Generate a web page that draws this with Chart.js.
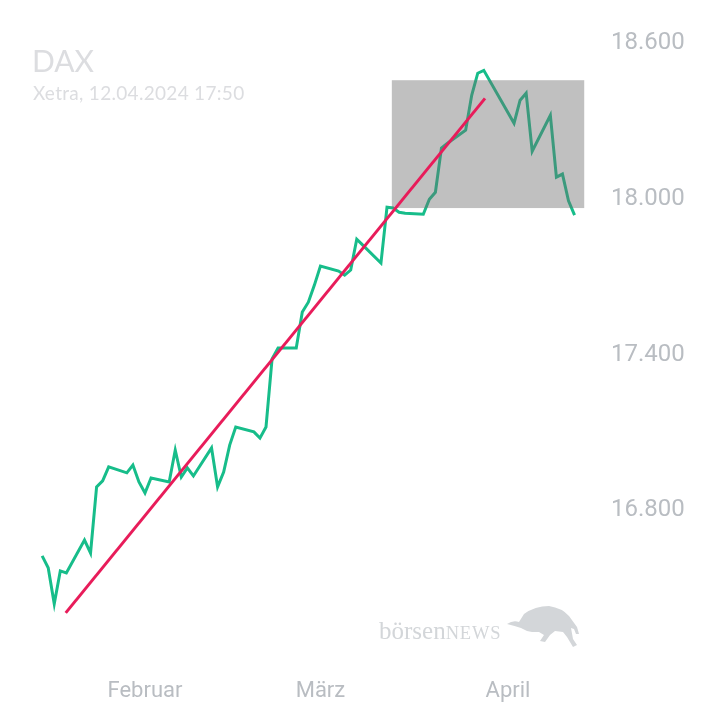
<!DOCTYPE html>
<html>
<head>
<meta charset="utf-8">
<script src="https://cdn.jsdelivr.net/npm/chart.js@4.4.1/dist/chart.umd.min.js"></script>
<style>
  html, body { margin: 0; padding: 0; background: #fff; }
  #wrap { position: relative; width: 720px; height: 720px; overflow: hidden; }
  #chart { position: absolute; left: 0; top: 0; }
  .title { position: absolute; left: 32px; top: 45px; font: 400 30px/1 Lato, sans-serif; color: #dcdde0; }
  .sub { position: absolute; left: 33px; top: 83px; font: 400 19px/1 Lato, sans-serif; letter-spacing: 0.3px; color: #dcdde0; }
  .mark { position: absolute; left: 379px; top: 618px; font: 400 25px/1 "Liberation Serif", serif; color: #d3d6d9; white-space: nowrap; }
  .mark span { font-size: 18.5px; letter-spacing: 0.8px; }
  .bull { position: absolute; left: 505px; top: 601px; }
</style>
</head>
<body>
<div id="wrap">
  <canvas id="chart" width="720" height="720"></canvas>
  <div class="title">DAX</div>
  <div class="sub">Xetra, 12.04.2024 17:50</div>
  <div class="mark">börsen<span>NEWS</span></div>
  <svg class="bull" width="78" height="50" viewBox="0 0 78 50">
    <path fill="#d3d6d9" d="M2,23 Q8,19 14,21 L19,13 Q30,5 44,5 Q57,7 64,15 L72,26 L74,33 L71,33 L69,28 L66,27 L68,38 L72,44 L68,46 L62,36 L58,31 L50,30 L45,34 L40,41 L35,40 L39,34 L34,31 L27,31 L22,30 L16,27 Q10,25 2,23 Z"/>
  </svg>
</div>
<script>
// DAX daily closes
const tradingDays = [
  '2024-01-15','2024-01-16','2024-01-17','2024-01-18','2024-01-19',
  '2024-01-22','2024-01-23','2024-01-24','2024-01-25','2024-01-26',
  '2024-01-29','2024-01-30','2024-01-31','2024-02-01','2024-02-02',
  '2024-02-05','2024-02-06','2024-02-07','2024-02-08','2024-02-09',
  '2024-02-12','2024-02-13','2024-02-14','2024-02-15','2024-02-16',
  '2024-02-19','2024-02-20','2024-02-21','2024-02-22','2024-02-23',
  '2024-02-26','2024-02-27','2024-02-28','2024-02-29','2024-03-01',
  '2024-03-04','2024-03-05','2024-03-06','2024-03-07','2024-03-08',
  '2024-03-11','2024-03-12','2024-03-13','2024-03-14','2024-03-15',
  '2024-03-18','2024-03-19','2024-03-20','2024-03-21','2024-03-22',
  '2024-03-25','2024-03-26','2024-03-27','2024-03-28',
  '2024-04-02','2024-04-03','2024-04-04','2024-04-05',
  '2024-04-08','2024-04-09','2024-04-10','2024-04-11','2024-04-12'
];
const closes = [
  16616, 16570, 16431, 16558, 16550,
  16677, 16627, 16882, 16905, 16959,
  16936, 16966, 16901, 16858, 16916,
  16901, 17024, 16920, 16955, 16924,
  17032, 16882, 16939, 17043, 17113,
  17094, 17070, 17113, 17375, 17417,
  17417, 17556, 17594, 17660, 17733,
  17714, 17698, 17718, 17837, 17814,
  17745, 17960, 17957, 17941, 17937,
  17933, 17991, 18018, 18188, 18207,
  18257, 18392, 18477, 18488,
  18284, 18373, 18400, 18176,
  18315, 18076, 18088, 17985, 17930
];

// trend line (red) and highlight box (gray), as day-of-year / index points
const trendDays = [18.9, 88.2];
const trendValues = [16396, 18380];
const boxDays = [72.8, 104.6];
const boxValues = [17957, 18450];

const monthStarts = ['2024-02-01', '2024-03-01', '2024-04-01'];
const monthLabels = ['Februar', 'März', 'April'];
const yTicks = [16800, 17400, 18000, 18600];

function dayOfYear(s) {
  return (Date.parse(s + 'T00:00:00Z') - Date.UTC(2024, 0, 1)) / 86400000 + 1;
}
function fmt(v) {
  return String(v).replace(/\B(?=(\d{3})+(?!\d))/g, '.');
}

const monthDays = monthStarts.map(dayOfYear);
const daxPoints = tradingDays.map((d, i) => ({ x: dayOfYear(d), y: closes[i] }));
const trendPoints = trendDays.map((d, i) => ({ x: d, y: trendValues[i] }));

// gray box painted over the green line but under the red one
const boxPlugin = {
  id: 'boxPlugin',
  afterDatasetDraw(chart, args) {
    if (args.index !== 0) return;
    const x = chart.scales.x, y = chart.scales.y;
    const x0 = x.getPixelForValue(boxDays[0]);
    const x1 = x.getPixelForValue(boxDays[1]);
    const y0 = y.getPixelForValue(boxValues[1]);
    const y1 = y.getPixelForValue(boxValues[0]);
    const ctx = chart.ctx;
    ctx.save();
    ctx.fillStyle = 'rgba(110,110,110,0.43)';
    ctx.fillRect(x0, y0, x1 - x0, y1 - y0);
    ctx.restore();
  }
};

new Chart(document.getElementById('chart'), {
  type: 'line',
  data: {
    datasets: [
      {
        data: daxPoints,
        borderColor: '#17bd8a',
        borderWidth: 3,
        pointRadius: 0,
        tension: 0,
        order: 2
      },
      {
        data: trendPoints,
        borderColor: '#e81c5a',
        borderWidth: 3,
        pointRadius: 0,
        order: 1
      }
    ]
  },
  options: {
    responsive: false,
    animation: false,
    devicePixelRatio: 1,
    layout: { autoPadding: false, padding: { left: 20, top: 20, right: 0, bottom: 0 } },
    plugins: { legend: { display: false }, tooltip: { enabled: false } },
    scales: {
      x: {
        type: 'linear',
        min: 11.34,
        max: 106.38,
        grid: { display: false, drawTicks: false },
        border: { display: false },
        afterBuildTicks: axis => { axis.ticks = monthDays.map(v => ({ value: v })); },
        afterFit: axis => { axis.height = 70; },
        ticks: {
          autoSkip: false,
          maxRotation: 0,
          padding: 28,
          color: '#b9bdc2',
          font: { family: 'Roboto', size: 22 },
          callback: v => monthLabels[monthDays.indexOf(v)]
        }
      },
      y: {
        position: 'right',
        min: 16253,
        max: 18642,
        grid: { display: false, drawTicks: false },
        border: { display: false },
        afterBuildTicks: axis => { axis.ticks = yTicks.map(v => ({ value: v })); },
        afterFit: axis => { axis.width = 125; },
        ticks: {
          padding: 16,
          labelOffset: 2,
          color: '#b9bdc2',
          font: { family: 'Roboto', size: 24 },
          callback: v => fmt(v)
        }
      }
    }
  },
  plugins: [boxPlugin]
});
</script>
</body>
</html>
